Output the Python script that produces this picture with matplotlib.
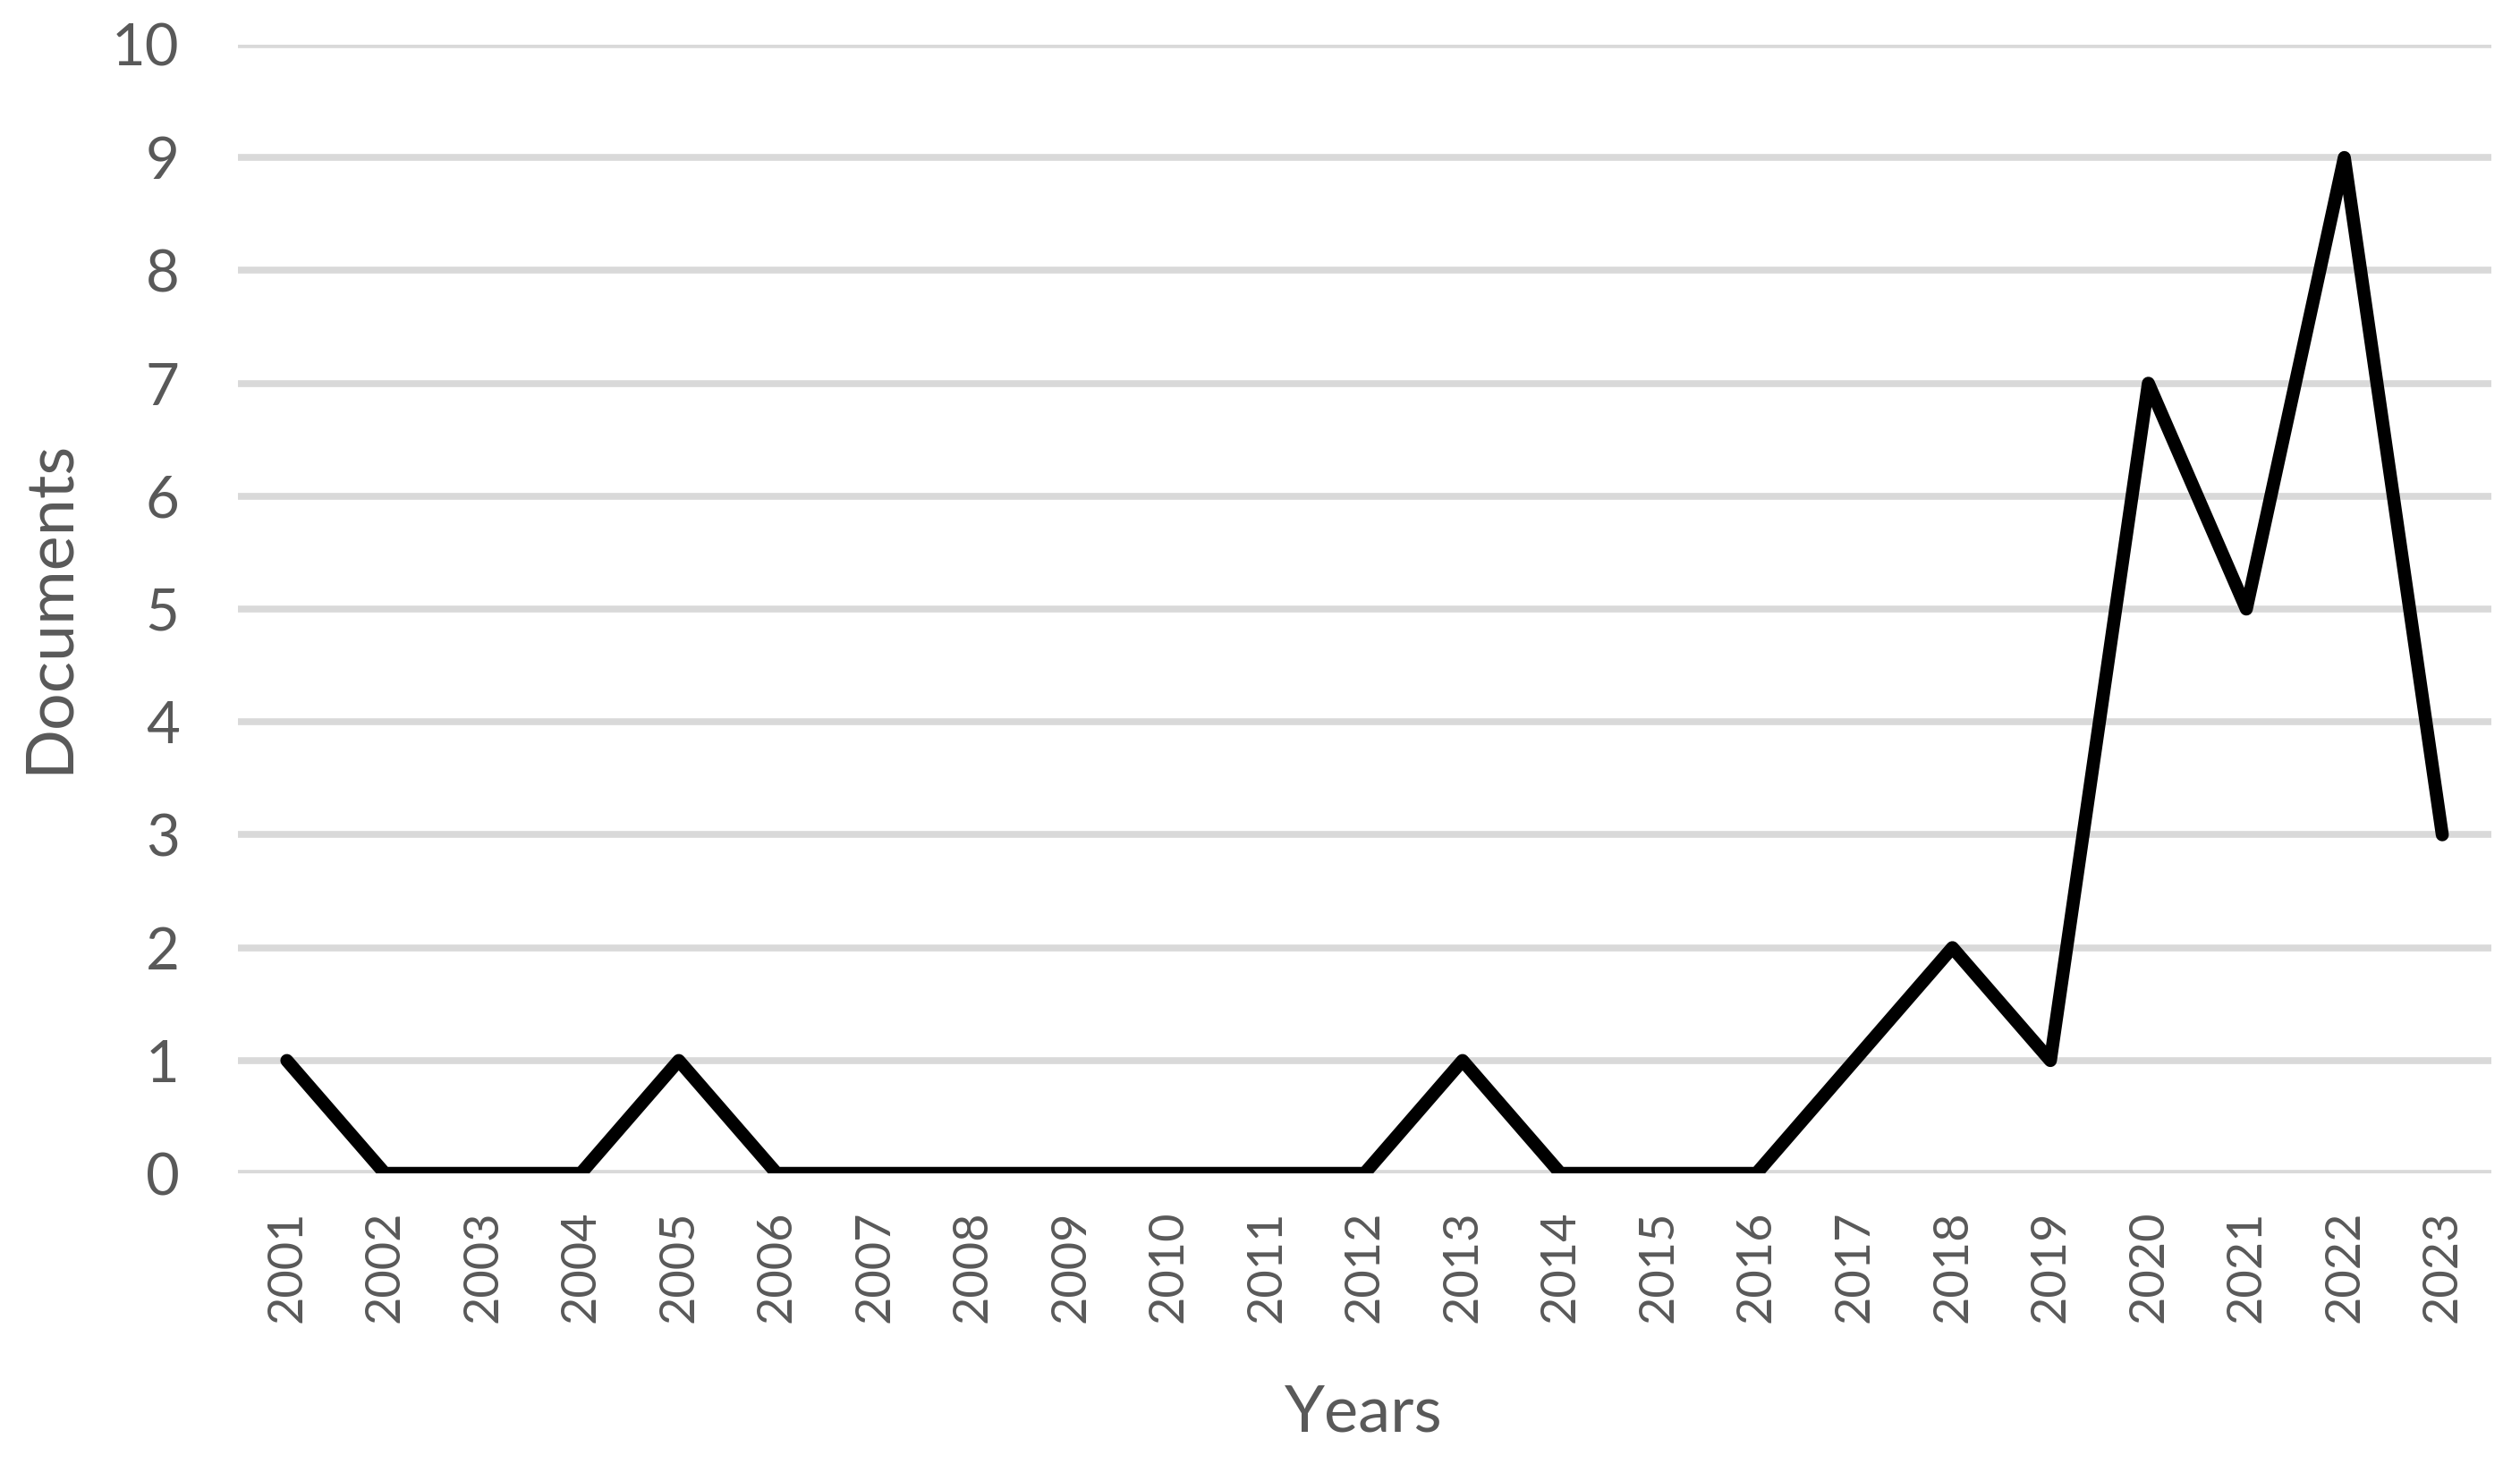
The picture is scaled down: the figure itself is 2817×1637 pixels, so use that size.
import matplotlib
matplotlib.use("Agg")
import matplotlib.pyplot as plt

years = ["2001", "2002", "2003", "2004", "2005", "2006", "2007", "2008", "2009", "2010",
         "2011", "2012", "2013", "2014", "2015", "2016", "2017", "2018", "2019", "2020",
         "2021", "2022", "2023"]
documents = [1, 0, 0, 0, 1, 0, 0, 0, 0, 0, 0, 0, 1, 0, 0, 0, 1, 2, 1, 7, 5, 9, 3]
y_ticks = list(range(0, 11))

plt.rcParams['font.family'] = ['Lato', 'DejaVu Sans']
text_color = "#595959"

fig = plt.figure(figsize=(28.17, 16.37), dpi=100)
ax = fig.add_axes([0.0944, 0.1985, 0.8942, 0.771])

x = list(range(len(years)))
ax.plot(x, documents, color="black", linewidth=10.5,
        solid_capstyle="round", solid_joinstyle="round", zorder=3)

ax.set_xlim(-0.5, len(years) - 0.5)
ax.set_ylim(0, 10)
ax.set_yticks(y_ticks)
ax.set_yticklabels([str(v) for v in y_ticks])
ax.set_xticks(x)
ax.set_xticklabels(years, rotation=90)

ax.grid(axis="y", color="#d9d9d9", linewidth=5.5)
ax.set_axisbelow(True)
for s in ax.spines.values():
    s.set_visible(False)
ax.tick_params(axis="y", length=0, pad=47, labelsize=47, labelcolor=text_color)
ax.tick_params(axis="x", length=0, pad=30, labelsize=39, labelcolor=text_color)

ax.set_ylabel("Documents", fontsize=53, color=text_color, va="center")
ax.set_xlabel("Years", fontsize=52, color=text_color, va="center")
ax.yaxis.set_label_coords(-0.0838, 0.502)
ax.xaxis.set_label_coords(0.4994, -0.2124)

fig.savefig("out.png", dpi=100)
